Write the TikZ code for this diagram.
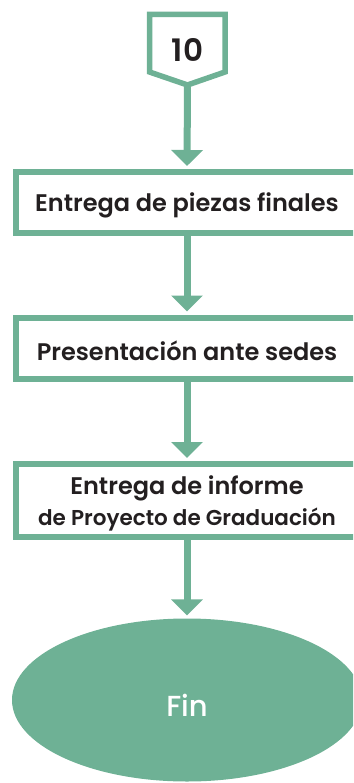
\documentclass[tikz,border=0pt]{standalone}
\usepackage{fontspec}
\setmainfont{Poppins}
\newfontfamily\popsemi{Poppins SemiBold}
\newfontfamily\popmed{Poppins Medium}
\usetikzlibrary{arrows.meta,shapes.geometric}
\definecolor{fgreen}{RGB}{110,177,149}
\definecolor{ftext}{RGB}{35,31,32}
\tikzset{
  stepbox/.style={draw=fgreen, line width=6pt, fill=white, rectangle, minimum width=342pt,
    inner sep=0pt},
  steptext/.style={inner sep=0pt, align=center, text=ftext, font=\popsemi\fontsize{24}{31}\selectfont},
  flow/.style={draw=fgreen, line width=7pt, -{Triangle[width=31pt,length=16pt]}, shorten >=3pt},
}
\begin{document}
\begin{tikzpicture}[x=1pt,y=1pt]
\useasboundingbox (0,0) rectangle (353,-783);
\clip (0,0) rectangle (353,-783);
% start pentagon
\draw[fgreen, line width=5.5pt, line join=miter, fill=white]
  (149.5,-14.5) -- (225,-14.5) -- (225,-72) -- (187.5,-85) -- (149.5,-72) -- cycle;
\node[text=ftext, font=\popsemi\fontsize{31}{31}\selectfont] (p10) at (187.5,-50) {10};
\coordinate (p10tip) at (187.5,-85);
\node[stepbox, minimum height=61.5pt] (b1) at (187,-202.75) {};
\node[steptext] (t1) at ([yshift=-3pt]b1.center) {Entrega de piezas finales};
\node[stepbox, minimum height=61pt] (b2) at (187,-348) {};
\node[steptext] (t2) at ([yshift=-3pt]b2.center) {Presentación ante sedes};
\node[stepbox, minimum height=73pt] (b3) at (187,-500.5) {};
\node[steptext] (t3) at ([yshift=-3pt]b3.center) {Entrega de informe\\{\fontsize{21.5}{31}\selectfont de Proyecto de Graduación}};
\node[ellipse, fill=fgreen, minimum width=350pt, minimum height=163pt, inner sep=0pt,
  text=white, font=\popmed\fontsize{29}{29}\selectfont] (fin) at (187,-700) {};
\node[text=white, font=\popmed\fontsize{29}{29}\selectfont] (fint) at ([yshift=-5pt]fin.center) {Fin};
\draw[flow] (p10tip) -- (b1.north);
\draw[flow] (b1.south) -- (b2.north);
\draw[flow] (b2.south) -- (b3.north);
\draw[flow] (b3.south) -- (fin.north);
\end{tikzpicture}
\end{document}
